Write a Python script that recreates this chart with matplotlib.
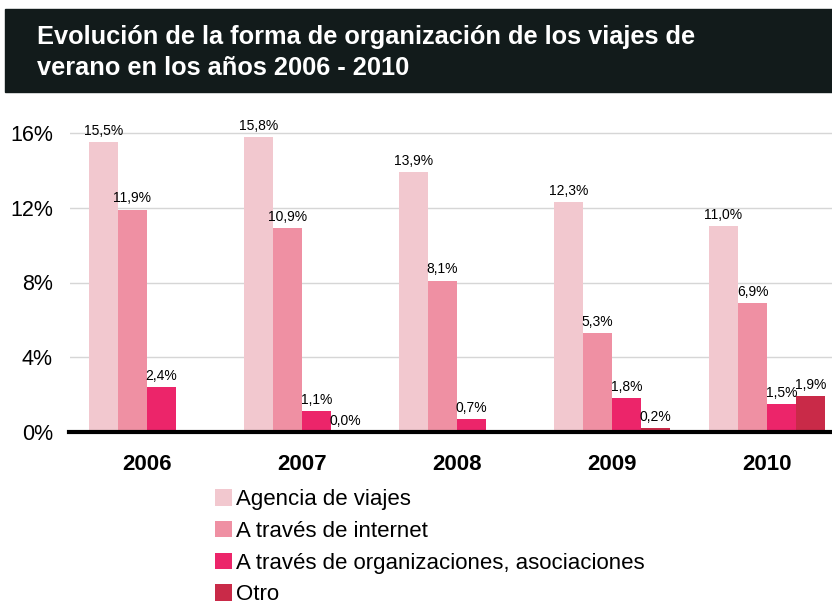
import numpy as np
import matplotlib.pyplot as plt
from matplotlib.patches import Rectangle

plt.rcParams["font.family"] = ["Liberation Sans", "DejaVu Sans"]

# ===== data =====
years = ["2006", "2007", "2008", "2009", "2010"]
series_names = [
    "Agencia de viajes",
    "A través de internet",
    "A través de organizaciones, asociaciones",
    "Otro",
]
agencia = [15.5, 15.8, 13.9, 12.3, 11.0]
internet = [11.9, 10.9, 8.1, 5.3, 6.9]
organizaciones = [2.4, 1.1, 0.7, 1.8, 1.5]
otro = [np.nan, 0.0, np.nan, 0.2, 1.9]
colors = ["#f2c8cf", "#ef90a3", "#ec256a", "#c92a48"]

W, H = 832, 605
fig = plt.figure(figsize=(W / 100, H / 100), dpi=100)

# title bar
fig.patches.append(Rectangle((5 / W, 1 - 92 / H), 1, 83 / H,
                             transform=fig.transFigure, color="#121b1b", zorder=0))
fig.text(37 / W, 1 - 37 / H, "Evolución de la forma de organización de los viajes de",
         color="white", fontsize=18.3, fontweight="bold", va="center", ha="left")
fig.text(37 / W, 1 - 68 / H, "verano en los años 2006 - 2010",
         color="white", fontsize=18.3, fontweight="bold", va="center", ha="left")

# axes: 0% at y=432, 16% at y=133
ax_left, ax_right = 69.5, 832
y0, y16 = 432, 133
ax = fig.add_axes([ax_left / W, 1 - y0 / H, (ax_right - ax_left) / W, (y0 - y16 + 8) / H])
ax.set_ylim(0, 16 * (y0 - y16 + 8) / (y0 - y16))
ax.set_xlim(-0.5, -0.5 + (ax_right - ax_left) / 155)

x = np.arange(len(years))
bw = 29 / 155
all_series = [agencia, internet, organizaciones, otro]
for i, (vals, c, name) in enumerate(zip(all_series, colors, series_names)):
    pos = x + (i - 1.5) * bw
    v = np.array(vals, dtype=float)
    ax.bar(pos, np.nan_to_num(v), width=bw, color=c, label=name, zorder=2)
    for p, val in zip(pos, v):
        if np.isnan(val):
            continue
        ax.annotate(f"{val:.1f}%".replace(".", ","), (p, val), xytext=(0, 3),
                    textcoords="offset points", ha="center", va="bottom",
                    fontsize=10, color="black")

ax.set_yticks([0, 4, 8, 12, 16])
ax.set_yticklabels(["0%", "4%", "8%", "12%", "16%"], fontsize=15.5)
ax.yaxis.grid(True, color="#d6d6d6", linewidth=1, zorder=0)
ax.set_axisbelow(True)
ax.tick_params(axis="y", length=0, pad=12)
ax.set_xticks(x)
ax.set_xticklabels(years, fontsize=16, fontweight="bold")
ax.tick_params(axis="x", length=0, pad=16)
for s in ["top", "right", "left"]:
    ax.spines[s].set_visible(False)
ax.spines["bottom"].set_linewidth(3)
ax.spines["bottom"].set_color("black")
ax.spines["bottom"].set_zorder(3)

# legend kept fully inside the figure (the reference crops "Otro" slightly)
leg = fig.legend(loc="upper left", bbox_to_anchor=(215 / W, 1 - 489 / H),
                 frameon=False, fontsize=16, handlelength=0.78, handleheight=0.78,
                 handletextpad=0.15, labelspacing=0.48, borderaxespad=0,
                 borderpad=0)

fig.savefig("out.png", dpi=100)
